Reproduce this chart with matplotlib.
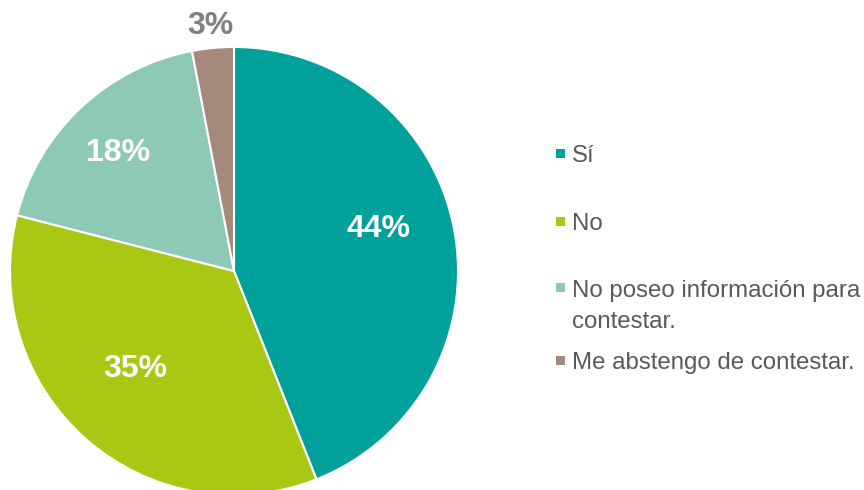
import matplotlib
matplotlib.use("Agg")
import matplotlib.pyplot as plt
import numpy as np
from matplotlib.patches import Rectangle

plt.rcParams["font.family"] = ["Liberation Sans", "DejaVu Sans"]

# --- data ---
LABELS = ["Sí", "No", "No poseo información para\ncontestar.", "Me abstengo de contestar."]
VALUES = [44, 35, 18, 3]
COLORS = ["#00A19A", "#A8C813", "#8EC9B5", "#A58A7B"]
PCT_TXT = ["44%", "35%", "18%", "3%"]

# label placement: radial fraction and angle offset (deg) from wedge middle
LBL_R = [0.67, 0.62, 0.74, 1.10]
LBL_DA = [5.5, -4.0, 1.3, 0.0]
LBL_COL = ["white", "white", "white", "#808080"]

W, H = 864, 490
CX, CY, R = 234, H - 271, 224


def main(out="out.png"):
    fig = plt.figure(figsize=(W / 100, H / 100), dpi=100)
    ax = fig.add_axes([0, 0, 1, 1])
    wedges, _ = ax.pie(VALUES, colors=COLORS, startangle=90, counterclock=False,
                       center=(CX, CY), radius=R,
                       wedgeprops=dict(edgecolor="white", linewidth=1.5))
    ax.set_xlim(0, W); ax.set_ylim(0, H)
    ax.set_aspect("equal"); ax.axis("off")

    for w, txt, rf, da, col in zip(wedges, PCT_TXT, LBL_R, LBL_DA, LBL_COL):
        mid = np.deg2rad((w.theta1 + w.theta2) / 2 + da)
        ax.text(CX + rf * R * np.cos(mid), CY + rf * R * np.sin(mid), txt,
                ha="center", va="center", fontsize=23, fontweight="bold", color=col)

    # legend, drawn by hand to match the uneven spacing of the original
    leg_y = [154, 222, 288, 360]
    for lab, col, y in zip(LABELS, COLORS, leg_y):
        ax.add_patch(Rectangle((556, H - y - 4.5), 9, 9, color=col, lw=0))
        for i, line in enumerate(lab.split("\n")):
            ax.text(572, H - (y + 8.5 + i * 31), line, ha="left", va="baseline",
                    fontsize=17.3, color="#595959")

    fig.savefig(out, dpi=100)


if __name__ == "__main__":
    main()
